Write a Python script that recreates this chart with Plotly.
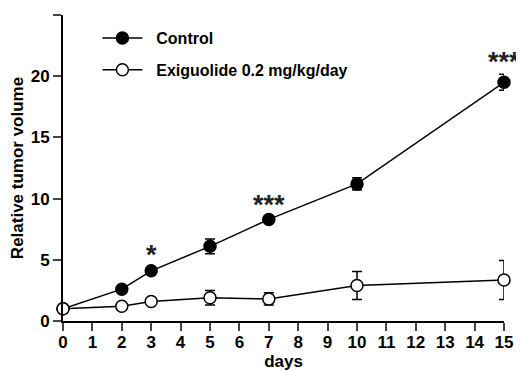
import plotly.graph_objects as go

days = [0, 2, 3, 5, 7, 10, 15]
control = [1.0, 2.6, 4.1, 6.1, 8.3, 11.2, 19.5]
control_err = [0.1, 0.15, 0.2, 0.6, 0.2, 0.5, 0.65]
exig = [1.0, 1.2, 1.6, 1.9, 1.8, 2.9, 3.35]
exig_err = [0.1, 0.1, 0.2, 0.6, 0.5, 1.15, 1.6]
sig_days = [3, 7, 15]
sig_labels = ["*", "***", "***"]
sig_y = [5.4, 9.5, 21.2]
x_ticks = list(range(0, 16))
y_ticks = [0, 5, 10, 15, 20, 25]
names = ["Control", "Exiguolide 0.2 mg/kg/day"]

FONT = "Liberation Sans"

fig = go.Figure()
fig.add_trace(go.Scatter(
    x=days, y=control, mode="lines+markers", name="&nbsp;&nbsp;" + names[0],
    legendgroup="a",
    line=dict(color="black", width=1.5),
    marker=dict(symbol="circle", size=12, color="black", line=dict(color="black", width=1.5)),
    error_y=dict(type="data", array=control_err, color="black", thickness=1.5, width=5),
    cliponaxis=False,
))
fig.add_trace(go.Scatter(
    x=days, y=exig, mode="lines+markers", name="&nbsp;&nbsp;" + names[1],
    legendgroup="b",
    line=dict(color="black", width=1.5),
    marker=dict(symbol="circle", size=12, color="white", line=dict(color="black", width=1.5)),
    error_y=dict(type="data", array=exig_err, color="black", thickness=1.5, width=5),
    cliponaxis=False,
))

for d, lab, yv in zip(sig_days, sig_labels, sig_y):
    fig.add_annotation(x=d, y=yv, text=lab, showarrow=False,
                       font=dict(family=FONT, size=27, color="#222", weight="bold"))

fig.update_layout(
    width=516, height=363,
    margin=dict(l=55, r=20, t=7, b=50, autoexpand=False),
    paper_bgcolor="white", plot_bgcolor="white",
    font=dict(family=FONT, color="black", weight="bold"),
    showlegend=True,
    legend=dict(x=0.078, y=0.98, xanchor="left", yanchor="top",
                font=dict(family=FONT, size=16, weight="bold"),
                itemwidth=40, tracegroupgap=8, traceorder="grouped",
                bgcolor="rgba(0,0,0,0)"),
    xaxis=dict(range=[0, 15], tickvals=x_ticks, ticks="outside", ticklen=8, tickwidth=1.5,
               showline=True, linecolor="black", linewidth=2, showgrid=False, zeroline=False,
               automargin=True, ticklabelstandoff=-3,
               tickfont=dict(family=FONT, size=17, weight="bold"),
               title=dict(text="days", font=dict(family=FONT, size=17, weight="bold"), standoff=0)),
    yaxis=dict(range=[0, 25], tickvals=y_ticks, ticks="outside", ticklen=8, tickwidth=1.5,
               showline=True, linecolor="black", linewidth=2, showgrid=False, zeroline=False,
               automargin=True,
               tickfont=dict(family=FONT, size=17, weight="bold"),
               title=dict(text="Relative tumor volume", font=dict(family=FONT, size=17, weight="bold"), standoff=6)),
)

fig.write_html("out.html")
